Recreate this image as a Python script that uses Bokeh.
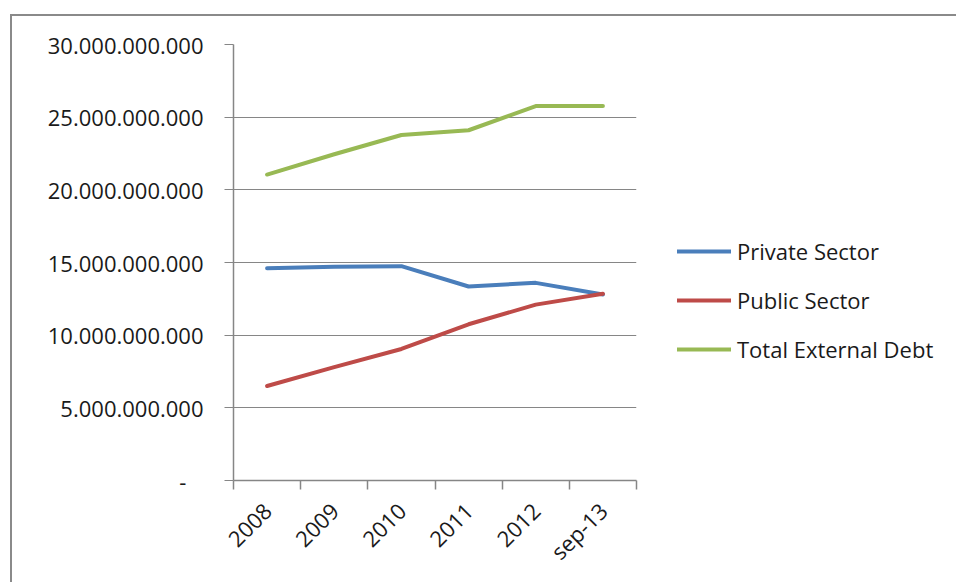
from math import pi

from bokeh.embed import file_html
from bokeh.layouts import row
from bokeh.models import (ColumnDataSource, FixedTicker, Legend, LegendItem,
                          Range1d)
from bokeh.plotting import figure
from bokeh.resources import INLINE

# External debt by sector (USD)
categories = ["2008", "2009", "2010", "2011", "2012", "sep-13"]
private_sector = [14.6e9, 14.7e9, 14.75e9, 13.35e9, 13.6e9, 12.8e9]
public_sector = [6.5e9, 7.8e9, 9.05e9, 10.75e9, 12.1e9, 12.85e9]
total_external_debt = [21.05e9, 22.45e9, 23.77e9, 24.1e9, 25.76e9, 25.76e9]

series_names = ["Private Sector", "Public Sector", "Total External Debt"]
series_colors = ["#4a7ebb", "#be4b48", "#98b954"]

y_ticks = [0, 5e9, 10e9, 15e9, 20e9, 25e9, 30e9]
y_tick_labels = ["-\u00a0\u00a0\u00a0", "5.000.000.000", "10.000.000.000",
                 "15.000.000.000", "20.000.000.000", "25.000.000.000",
                 "30.000.000.000"]

FONT = "Open Sans"
GRAY = "#868686"
TEXT = "#1a1a1a"

x_pos = [i + 0.5 for i in range(len(categories))]
source = ColumnDataSource(data=dict(
    x=x_pos,
    private=private_sector,
    public=public_sector,
    total=total_external_debt,
))

p = figure(
    width=644, height=566,
    x_range=Range1d(0, len(categories)),
    y_range=Range1d(0, 30e9),
    output_backend="svg", toolbar_location=None,
    min_border_left=221, min_border_right=20,
    min_border_top=28, min_border_bottom=102,
    background_fill_color="white", border_fill_color="white",
    outline_line_color=None,
)

# y axis
p.yaxis.ticker = FixedTicker(ticks=y_ticks)
p.yaxis.major_label_overrides = {t: l for t, l in zip(y_ticks, y_tick_labels)}
p.yaxis.major_label_text_font = FONT
p.yaxis.major_label_text_font_size = "22px"
p.yaxis.major_label_text_color = TEXT
p.yaxis.major_label_standoff = 21
p.yaxis.major_tick_out = 9
p.yaxis.major_tick_in = 0
p.yaxis.minor_tick_line_color = None
p.yaxis.axis_line_color = GRAY
p.yaxis.axis_line_width = 1.5
p.yaxis.major_tick_line_color = GRAY
p.yaxis.major_tick_line_width = 1

# x axis: labels centred in each category, ticks on category boundaries
p.xaxis.ticker = FixedTicker(ticks=x_pos,
                             minor_ticks=list(range(len(categories) + 1)))
p.xaxis.major_label_overrides = {x: c for x, c in zip(x_pos, categories)}
p.xaxis.major_label_orientation = pi / 4
p.xaxis.major_label_text_font = FONT
p.xaxis.major_label_text_font_size = "22px"
p.xaxis.major_label_text_color = TEXT
p.xaxis.major_label_standoff = 17
p.xaxis.major_tick_line_color = None
p.xaxis.major_tick_out = 9
p.xaxis.minor_tick_out = 9
p.xaxis.minor_tick_in = 0
p.xaxis.minor_tick_line_color = GRAY
p.xaxis.minor_tick_line_width = 1.5
p.xaxis.axis_line_color = GRAY
p.xaxis.axis_line_width = 1.5

p.xgrid.grid_line_color = None
p.ygrid.grid_line_color = GRAY
p.ygrid.grid_line_width = 1

line_kw = dict(line_width=4, line_cap="round", line_join="round")
for col, color in zip(["private", "public", "total"], series_colors):
    p.line("x", col, source=source, line_color=color, **line_kw)

# Legend panel to the right of the chart; its lines hold no visible points
lg = figure(
    width=300, height=566,
    x_range=Range1d(0, 1), y_range=Range1d(0, 1),
    output_backend="svg", toolbar_location=None,
    min_border=0, outline_line_color=None,
    background_fill_color="white", border_fill_color="white",
)
lg.axis.visible = False
lg.grid.visible = False
items = []
for name, color in zip(series_names, series_colors):
    r = lg.line(x=[float("nan")], y=[float("nan")], line_color=color, **line_kw)
    items.append(LegendItem(label=name, renderers=[r]))

legend = Legend(
    items=items,
    location=(21, 116),
    orientation="vertical",
    padding=0, margin=0, spacing=19,
    glyph_width=54, glyph_height=26, label_height=26,
    label_standoff=6,
    label_text_font=FONT, label_text_font_size="22px",
    label_text_color=TEXT,
    border_line_color=None, background_fill_alpha=0,
)
lg.add_layout(legend)

layout = row(
    p, lg,
    styles={
        "margin-left": "10px", "margin-top": "14px",
        "border-left": "2px solid #8a8a8a", "border-top": "2px solid #8a8a8a",
    },
)

open("out.html", "w").write(file_html(layout, INLINE))
